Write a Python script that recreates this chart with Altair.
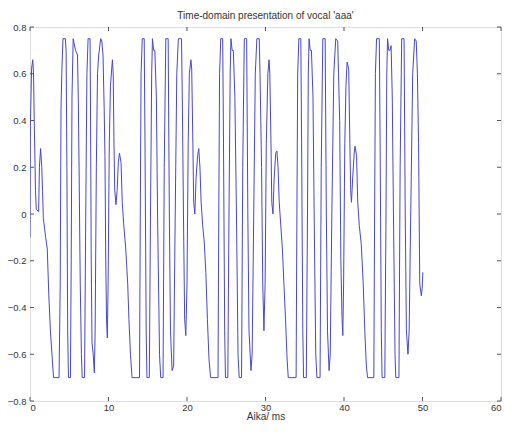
import altair as alt
import pandas as pd

# Waveform (time in ms, amplitude)
time_ms = [
    0.0, 0.05, 0.2, 0.35, 0.45, 0.55, 0.7, 0.8, 1.1, 1.2, 1.35, 1.5, 1.6, 1.7, 2.0, 2.2, 2.4, 2.6, 2.8, 3.0,
    3.7, 3.85, 3.95, 4.05, 4.2, 4.5, 4.6, 4.7, 4.8, 4.9, 5.15, 5.25, 5.35, 5.5, 5.8, 6.05, 6.15, 6.25, 6.4, 6.55,
    6.65, 6.95, 7.1, 7.25, 7.4, 7.65, 7.7, 7.8, 7.9, 8.05, 8.2, 8.3, 8.45, 8.6, 8.75, 9.0, 9.15, 9.3, 9.45, 9.55,
    9.65, 9.75, 9.85, 9.95, 10.1, 10.25, 10.5, 10.6, 10.7, 10.8, 10.95, 11.1, 11.25, 11.4, 11.6, 11.75, 11.95, 12.2, 12.45, 12.6,
    12.8, 13.0, 13.95, 14.05, 14.15, 14.3, 14.55, 14.65, 14.8, 14.9, 15.2, 15.35, 15.5, 15.6, 15.75, 15.9, 16.1, 16.25, 16.5, 16.65,
    16.95, 17.1, 17.3, 17.6, 17.75, 17.9, 18.1, 18.3, 18.5, 18.7, 18.9, 19.3, 19.4, 19.55, 19.7, 19.85, 20.0, 20.15, 20.3, 20.5,
    20.6, 20.75, 20.85, 21.0, 21.15, 21.35, 21.5, 21.65, 21.8, 22.0, 22.2, 22.4, 22.6, 22.8, 23.0, 23.95, 24.05, 24.15, 24.3, 24.55,
    24.65, 24.8, 24.9, 25.2, 25.35, 25.5, 25.6, 25.75, 25.9, 26.1, 26.3, 26.5, 26.65, 26.95, 27.1, 27.3, 27.6, 27.75, 27.9, 28.15,
    28.3, 28.5, 28.7, 28.9, 29.2, 29.3, 29.5, 29.65, 29.8, 29.95, 30.1, 30.3, 30.45, 30.55, 30.7, 30.8, 30.95, 31.1, 31.3, 31.45,
    31.6, 31.75, 31.95, 32.15, 32.35, 32.55, 32.75, 32.9, 33.9, 34.0, 34.1, 34.25, 34.5, 34.6, 34.75, 34.85, 35.2, 35.35, 35.45, 35.55,
    35.7, 35.85, 36.05, 36.2, 36.4, 36.55, 36.95, 37.1, 37.3, 37.6, 37.75, 37.9, 38.1, 38.25, 38.45, 38.7, 38.95, 39.2, 39.3, 39.45,
    39.6, 39.75, 39.85, 39.95, 40.1, 40.25, 40.4, 40.6, 40.75, 40.85, 40.95, 41.1, 41.3, 41.4, 41.6, 41.75, 41.95, 42.2, 42.45, 42.65,
    42.85, 43.0, 43.8, 43.9, 44.0, 44.15, 44.5, 44.6, 44.75, 44.85, 45.2, 45.35, 45.45, 45.55, 45.7, 45.85, 46.0, 46.15, 46.3, 46.5,
    46.6, 47.0, 47.15, 47.35, 47.65, 47.8, 47.95, 48.15, 48.3, 48.5, 48.75, 49.0, 49.2, 49.35, 49.5, 49.65, 49.85, 49.95, 50.05,
]
amplitude = [
    -0.1, 0.38, 0.62, 0.66, 0.6, 0.38, 0.1, 0.02, 0.01, 0.2, 0.28, 0.2, 0.1, -0.02, -0.1, -0.15, -0.35, -0.5, -0.6, -0.7,
    -0.7, -0.3, 0.45, 0.6, 0.75, 0.75, 0.7, 0.2, -0.5, -0.7, -0.7, -0.2, 0.5, 0.75, 0.7, 0.68, 0.5, 0.2, -0.3, -0.6,
    -0.7, -0.7, 0.0, 0.6, 0.75, 0.75, 0.5, -0.2, -0.55, -0.6, -0.68, -0.5, 0.2, 0.6, 0.68, 0.75, 0.74, 0.68, 0.45, 0.25,
    -0.2, -0.45, -0.53, -0.3, 0.3, 0.55, 0.66, 0.6, 0.3, 0.1, 0.04, 0.1, 0.22, 0.26, 0.22, 0.05, -0.05, -0.15, -0.3, -0.45,
    -0.6, -0.7, -0.7, 0.0, 0.6, 0.75, 0.75, 0.3, -0.5, -0.7, -0.7, 0.0, 0.6, 0.75, 0.7, 0.7, 0.5, 0.0, -0.6, -0.7,
    -0.7, 0.2, 0.75, 0.75, 0.0, -0.5, -0.67, -0.65, 0.0, 0.6, 0.75, 0.75, 0.5, 0.0, -0.45, -0.52, -0.3, 0.3, 0.6, 0.66,
    0.62, 0.3, 0.05, 0.0, 0.15, 0.25, 0.28, 0.2, 0.05, -0.05, -0.12, -0.25, -0.45, -0.62, -0.7, -0.7, 0.0, 0.6, 0.75, 0.75,
    0.3, -0.5, -0.7, -0.7, 0.0, 0.6, 0.75, 0.7, 0.7, 0.5, 0.0, -0.6, -0.7, -0.7, 0.2, 0.75, 0.75, 0.0, -0.5, -0.67,
    -0.6, 0.0, 0.6, 0.75, 0.75, 0.6, 0.2, -0.3, -0.5, -0.3, 0.3, 0.6, 0.66, 0.6, 0.3, 0.05, 0.0, 0.15, 0.26, 0.27,
    0.2, 0.05, -0.05, -0.15, -0.3, -0.45, -0.62, -0.7, -0.7, 0.0, 0.6, 0.75, 0.75, 0.3, -0.5, -0.7, -0.7, 0.0, 0.6, 0.75,
    0.7, 0.7, 0.5, 0.0, -0.6, -0.7, -0.7, 0.2, 0.75, 0.75, 0.0, -0.5, -0.67, -0.6, 0.0, 0.6, 0.75, 0.74, 0.6, 0.4,
    -0.2, -0.45, -0.52, -0.3, 0.3, 0.55, 0.65, 0.62, 0.3, 0.1, 0.05, 0.15, 0.26, 0.29, 0.25, 0.05, -0.05, -0.13, -0.3, -0.5,
    -0.65, -0.7, -0.7, 0.0, 0.6, 0.75, 0.75, 0.3, -0.5, -0.7, -0.7, 0.0, 0.6, 0.75, 0.7, 0.7, 0.72, 0.5, 0.0, -0.6,
    -0.7, -0.7, 0.2, 0.75, 0.75, 0.0, -0.5, -0.6, -0.5, 0.0, 0.6, 0.75, 0.74, 0.6, 0.3, -0.3, -0.35, -0.32, -0.25,
]

x_ticks = [0, 10, 20, 30, 40, 50, 60]
y_ticks = [-0.8, -0.6, -0.4, -0.2, 0, 0.2, 0.4, 0.6, 0.8]

W, H = 471, 374
FONT = "Liberation Sans"
TXT = "#333333"

wave = pd.DataFrame({"t": time_ms, "v": amplitude})
xt = pd.DataFrame({"t": x_ticks})
yt = pd.DataFrame({"v": y_ticks})

xscale = alt.Scale(domain=[0, 60], nice=False, zero=False)
yscale = alt.Scale(domain=[-0.8, 0.8], nice=False, zero=False)

line = alt.Chart(wave).mark_line(color="#4848c8", strokeWidth=1, clip=True).encode(
    x=alt.X("t:Q", scale=xscale,
            axis=alt.Axis(values=x_ticks, title="Aika/ ms", grid=False, domain=False,
                          ticks=False, labelPadding=1, labelFontSize=9.5, labelFont=FONT,
                          labelColor=TXT, titleFont=FONT, titleFontSize=10,
                          titleFontWeight="normal", titleColor=TXT, titlePadding=0)),
    y=alt.Y("v:Q", scale=yscale,
            axis=alt.Axis(values=y_ticks, title=None, grid=False, domain=False,
                          ticks=False, labelPadding=4, labelFontSize=9.5, labelFont=FONT,
                          labelColor=TXT,
                          labelExpr="datum.value == 0 ? '0' : format(datum.value, '.1f')")),
)

tick_col = "#555555"
bx = alt.Chart(xt).mark_rule(color=tick_col, strokeWidth=1).encode(
    x=alt.X("t:Q", scale=xscale), y=alt.value(H), y2=alt.value(H - 4))
tx = alt.Chart(xt).mark_rule(color=tick_col, strokeWidth=1).encode(
    x=alt.X("t:Q", scale=xscale), y=alt.value(0), y2=alt.value(4))
ly = alt.Chart(yt).mark_rule(color=tick_col, strokeWidth=1).encode(
    y=alt.Y("v:Q", scale=yscale), x=alt.value(0), x2=alt.value(4))
ry = alt.Chart(yt).mark_rule(color=tick_col, strokeWidth=1).encode(
    y=alt.Y("v:Q", scale=yscale), x=alt.value(W), x2=alt.value(W - 4))

chart = alt.layer(line, bx, tx, ly, ry).properties(
    width=W, height=H,
    title=alt.TitleParams("Time-domain presentation of vocal 'aaa'", font=FONT, fontSize=10,
                          fontWeight="normal", color=TXT, offset=1, frame="group"),
    autosize=alt.AutoSizeParams(type="none"),
    padding={"left": 22, "top": 19, "right": 5, "bottom": 21},
).configure_view(stroke="#444444", strokeWidth=1).configure(background="white")

chart.save("out.html", embed_options={"renderer": "svg", "actions": False})
